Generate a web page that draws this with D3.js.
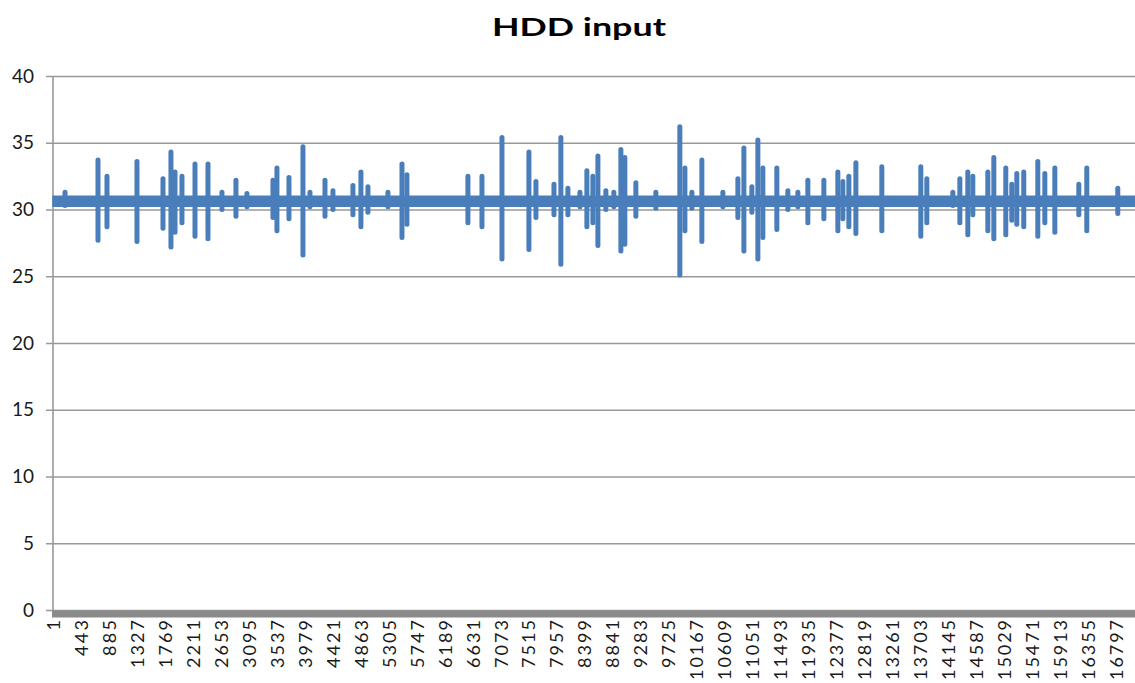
<!DOCTYPE html>
<html>
<head>
<meta charset="utf-8">
<script src="https://cdn.jsdelivr.net/npm/d3@7"></script>
<style>
  body { margin: 0; background: #fff; }
  svg text { font-family: Lato, "Open Sans", sans-serif; fill: #1a1a1a; }
</style>
</head>
<body>
<svg id="chart" width="1135" height="683"></svg>
<script>
// y axis ticks
var yTicks = [0, 5, 10, 15, 20, 25, 30, 35, 40];

// category labels shown on the x axis (every 442nd sample)
var xTickLabels = [1, 443, 885, 1327, 1769, 2211, 2653, 3095, 3537, 3979, 4421, 4863,
  5305, 5747, 6189, 6631, 7073, 7515, 7957, 8399, 8841, 9283, 9725, 10167, 10609,
  11051, 11493, 11935, 12377, 12819, 13261, 13703, 14145, 14587, 15029, 15471,
  15913, 16355, 16797];

// the quiet band the signal sits in most of the time
var baseLow = 30.25;
var baseHigh = 31.0;

// spikes: sample index, max, min
var spikeIdx = [191, 712, 854, 1328, 1739, 1865, 1929, 2039, 2245, 2450, 2671, 2892,
  3066, 3477, 3540, 3730, 3951, 4062, 4299, 4425, 4741, 4867, 4978, 5294, 5516, 5594,
  6558, 6780, 7096, 7522, 7633, 7918, 8027, 8138, 8328, 8438, 8533, 8612, 8738, 8864,
  8975, 9038, 9212, 9528, 9907, 9987, 10097, 10255, 10587, 10824, 10919, 11045, 11140,
  11219, 11440, 11614, 11772, 11930, 12183, 12404, 12483, 12578, 12689, 13099, 13715,
  13810, 14221, 14332, 14458, 14537, 14774, 14869, 15058, 15153, 15232, 15342, 15564,
  15675, 15833, 16212, 16338, 16828];
var spikeHigh = [31.3, 33.7, 32.5, 33.6, 32.3, 34.3, 32.8, 32.5, 33.4, 33.4, 31.3, 32.2,
  31.2, 32.2, 33.1, 32.4, 34.7, 31.3, 32.2, 31.4, 31.8, 32.8, 31.7, 31.3, 33.4, 32.6,
  32.5, 32.5, 35.4, 34.3, 32.1, 31.9, 35.4, 31.6, 31.3, 32.9, 32.5, 34.0, 31.4, 31.3,
  34.5, 33.9, 32.0, 31.3, 36.2, 33.1, 31.3, 33.7, 31.3, 32.3, 34.6, 31.7, 35.2,
  33.1, 33.1, 31.4, 31.3, 32.2, 32.2, 32.8, 32.1, 32.5, 33.5, 33.2, 33.2,
  32.3, 31.3, 32.3, 32.8, 32.5, 32.8, 33.9, 33.1, 31.9, 32.7, 32.8, 33.6,
  32.7, 33.1, 31.9, 33.1, 31.6];
var spikeLow = [30.3, 27.7, 28.7, 27.6, 28.6, 27.2, 28.3, 29.0, 28.0, 27.8, 30.0, 29.5,
  30.2, 29.4, 28.4, 29.3, 26.6, 30.2, 29.5, 30.0, 29.6, 28.7, 29.8, 30.2, 27.9, 28.9,
  29.0, 28.7, 26.3, 27.0, 29.4, 29.6, 25.9, 29.6, 30.2, 28.7, 29.0, 27.3, 30.0, 30.2,
  26.9, 27.4, 29.5, 30.1, 25.1, 28.4, 30.1, 27.6, 30.2, 29.4, 26.9, 29.8, 26.3,
  27.9, 28.5, 30.0, 30.2, 29.0, 29.3, 28.4, 29.3, 28.7, 28.2, 28.4, 28.0,
  29.0, 30.3, 29.0, 28.1, 29.6, 28.4, 27.8, 28.1, 29.2, 28.9, 28.7, 28.0,
  29.0, 28.3, 29.6, 28.4, 29.7];

function drawChart(){
  var plotLeft = 53, plotRight = 1135, plotTop = 76, plotBottom = 610;
  var blue = "#4a7ebb";

  var svg = d3.select("#chart");

  var x = d3.scaleLinear().domain([1, 17100]).range([plotLeft, plotRight]);
  var y = d3.scaleLinear().domain([0, 40]).range([plotBottom, plotTop]);

  // gridlines + y labels
  var yAxis = d3.axisLeft(y).tickValues(yTicks).tickSize(-(plotRight - plotLeft + 7)).tickPadding(12);
  var gy = svg.append("g").attr("transform", "translate(" + (plotLeft - 7) + ",0)").call(yAxis);
  gy.select(".domain").remove();
  gy.selectAll(".tick line").attr("stroke", "#999").attr("stroke-width", 1.6);
  gy.selectAll(".tick text").attr("font-size", 19).attr("font-family", "Lato, sans-serif").attr("fill", "#111");

  // vertical axis line
  svg.append("line")
    .attr("x1", plotLeft).attr("x2", plotLeft)
    .attr("y1", plotTop).attr("y2", plotBottom)
    .attr("stroke", "#999").attr("stroke-width", 1.6);

  // quiet band
  var band = d3.area()
    .x(function(d){ return x(d); })
    .y0(y(baseLow))
    .y1(y(baseHigh));
  svg.append("path")
    .datum([1, 17100])
    .attr("d", band)
    .attr("fill", blue)
    .attr("stroke", blue)
    .attr("stroke-width", 1.5);

  // spikes
  var spikes = spikeIdx.map(function(d, i){
    return {i: d, hi: spikeHigh[i], lo: spikeLow[i]};
  });
  var line = d3.line().x(function(d){ return x(d[0]); }).y(function(d){ return y(d[1]); });
  svg.append("g").selectAll("path")
    .data(spikes)
    .enter()
    .append("path")
    .attr("d", function(d){ return line([[d.i, d.hi], [d.i, d.lo]]); })
    .attr("stroke", blue)
    .attr("stroke-width", 5)
    .attr("stroke-linecap", "round")
    .attr("fill", "none");

  // thick horizontal axis
  svg.append("line")
    .attr("x1", plotLeft - 1).attr("x2", plotRight)
    .attr("y1", plotBottom + 4).attr("y2", plotBottom + 4)
    .attr("stroke", "#8a8a8a").attr("stroke-width", 7);

  // x labels, rotated
  svg.append("g").selectAll("text")
    .data(xTickLabels)
    .enter()
    .append("text")
    .attr("transform", function(d){ return "translate(" + (x(d) + 7) + "," + (plotBottom + 10) + ") rotate(-90)"; })
    .attr("text-anchor", "end")
    .attr("font-size", 18)
    .attr("textLength", function(d){ return String(d).length * 12; })
    .attr("lengthAdjust", "spacing")
    .attr("fill", "#111")
    .text(function(d){ return d; });

  // title
  svg.append("text")
    .attr("x", 579).attr("y", 36)
    .attr("text-anchor", "middle")
    .attr("font-size", 25)
    .attr("font-weight", "bold")
    .attr("textLength", 174)
    .attr("lengthAdjust", "spacingAndGlyphs")
    .style("fill", "#000")
    .text("HDD input");
}

drawChart();
</script>
</body>
</html>
